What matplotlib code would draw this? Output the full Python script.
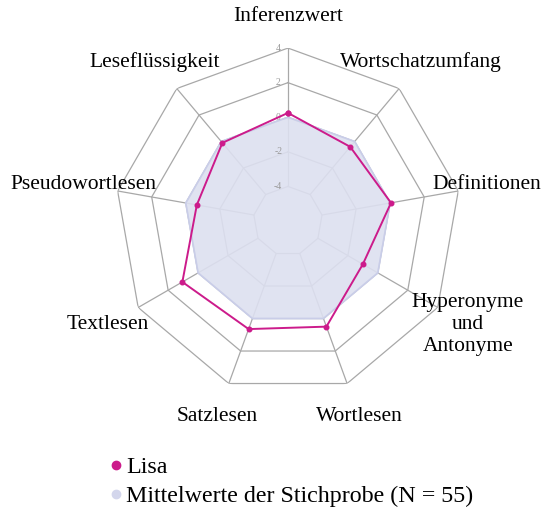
import numpy as np
import matplotlib
matplotlib.use("Agg")
import matplotlib.pyplot as plt
from matplotlib.lines import Line2D

plt.rcParams['font.family'] = ['Liberation Serif', 'DejaVu Serif']

categories = ["Inferenzwert", "Wortschatzumfang", "Definitionen",
              "Hyperonyme\nund\nAntonyme", "Wortlesen", "Satzlesen",
              "Textlesen", "Pseudowortlesen", "Leseflüssigkeit"]
lisa = [0.25, -0.4, 0.05, -1.0, 0.5, 0.65, 1.05, -0.65, -0.1]
mittel = [0.0, 0.0, 0.0, 0.0, 0.0, 0.0, 0.0, 0.0, 0.0]
ring_ticks = [-4, -2, 0, 2, 4]
rmin, rmax = -6, 4

n = len(categories)
angles = np.arange(n) * 2 * np.pi / n
ang_c = np.append(angles, angles[0])

fig = plt.figure(figsize=(5.43, 5.11), dpi=100)
ax = fig.add_axes([0.2118, 0.229, 0.637, 0.677], projection='polar')
ax.set_theta_offset(np.pi / 2)
ax.set_theta_direction(-1)
ax.set_ylim(rmin, rmax)
ax.grid(False)
ax.spines['polar'].set_visible(False)
ax.set_xticks([])
ax.set_yticks([])
ax.patch.set_alpha(0)

grid_col = '#a8a8a8'
for r in ring_ticks:
    ax.plot(ang_c, [r] * (n + 1), color=grid_col, lw=0.9, zorder=1)
for a in angles:
    ax.plot([a, a], [ring_ticks[0], ring_ticks[-1]], color=grid_col, lw=0.9, zorder=1)

m_c = mittel + [mittel[0]]
ax.fill(ang_c, m_c, color='#dde0f0', alpha=0.9, zorder=2)
ax.plot(ang_c, m_c, color='#c9cde8', lw=1.2, zorder=2)

for r in ring_ticks:
    ax.annotate(str(r), xy=(0, r), xytext=(-7, 0), textcoords='offset points',
                ha='center', va='center', fontsize=7, color='#9a9a9a', zorder=3)

l_c = lisa + [lisa[0]]
ax.plot(ang_c, l_c, color='#cc1b8b', lw=1.4, marker='o', markersize=3.3,
        zorder=4)

offsets = [(0, -2), (0, 0), (-4, 0), (0, 0), (0, 0), (0, 0), (0, 0), (0, 0), (0, 0)]
for a, lab, off in zip(angles, categories, offsets):
    ax.annotate(lab, xy=(a, 6.0), xytext=off, textcoords='offset points',
                ha='center', va='center', fontsize=15.5, color='black',
                linespacing=1.2, annotation_clip=False)

handles = [Line2D([], [], marker='o', ls='none', color='#cc1b8b', markersize=6),
           Line2D([], [], marker='o', ls='none', color='#d3d6ec', markersize=6)]
fig.legend(handles, ["Lisa", "Mittelwerte der Stichprobe (N = 55)"],
           loc='upper left', bbox_to_anchor=(0.186, 0.126), frameon=False,
           fontsize=17.3, handletextpad=0.2, labelspacing=0.3, handlelength=0.45,
           borderaxespad=0)

fig.savefig("out.png", dpi=100)
